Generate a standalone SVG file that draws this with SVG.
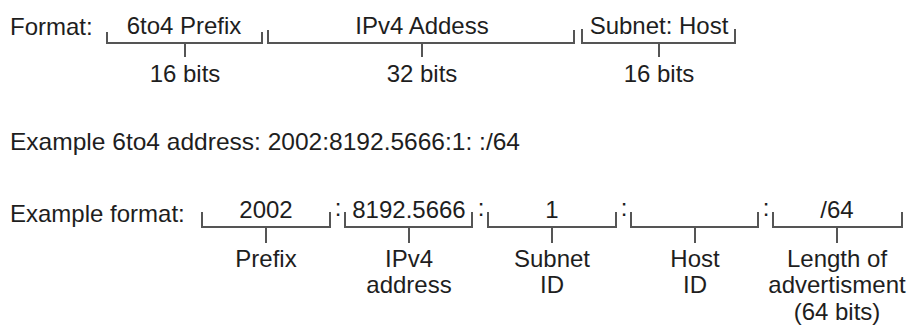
<svg xmlns="http://www.w3.org/2000/svg" width="912" height="325" viewBox="0 0 912 325">
<style>
text{font-family:"Liberation Sans",Arial,sans-serif;font-size:24px;fill:#1e1e1e}
.c{text-anchor:middle}
.b{fill:none;stroke:#555;stroke-width:2}
</style>
<rect width="912" height="325" fill="#fff"/>
<text x="10" y="35">Format:</text>
<text x="10" y="150" textLength="510" lengthAdjust="spacingAndGlyphs">Example 6to4 address: 2002:8192.5666:1: :/64</text>
<text x="10" y="222">Example format:</text>
<g id="connectors">
<path class="b" d="M107,32V43H262V32M185,43V57"/>
<path class="b" d="M268,30V43H574V30M422,43V57"/>
<path class="b" d="M582,29V43H735V29M659,43V57"/>
<path class="b" d="M202,212V227H330V212M266,227V243"/>
<path class="b" d="M345,212V227H472V212M409,227V243"/>
<path class="b" d="M488,212V227H616V212M552,227V243"/>
<path class="b" d="M631,212V227H758V212M695,227V243"/>
<path class="b" d="M773,212V227H902V212M837,227V243"/>
</g>
<g id="f1"><text class="c" x="184" y="34">6to4 Prefix</text><text class="c" x="185" y="82">16 bits</text></g>
<g id="f2"><text class="c" x="422" y="34">IPv4 Addess</text><text class="c" x="422" y="82">32 bits</text></g>
<g id="f3"><text class="c" x="659" y="34">Subnet: Host</text><text class="c" x="659" y="82">16 bits</text></g>
<g id="e1"><text class="c" x="266" y="218">2002</text><text class="c" x="266" y="267">Prefix</text></g>
<text class="c" x="338" y="216">:</text>
<g id="e2"><text class="c" x="409" y="218">8192.5666</text><text class="c" x="409" y="267">IPv4</text><text class="c" x="409" y="293">address</text></g>
<text class="c" x="481" y="216">:</text>
<g id="e3"><text class="c" x="552" y="218">1</text><text class="c" x="552" y="267">Subnet</text><text class="c" x="552" y="293">ID</text></g>
<text class="c" x="624" y="216">:</text>
<g id="e4"><text class="c" x="695" y="267">Host</text><text class="c" x="695" y="293">ID</text></g>
<text class="c" x="766" y="216">:</text>
<g id="e5"><text class="c" x="837" y="218">/64</text><text class="c" x="837" y="267">Length of</text><text class="c" x="837" y="293">advertisment</text><text class="c" x="837" y="320">(64 bits)</text></g>
</svg>
